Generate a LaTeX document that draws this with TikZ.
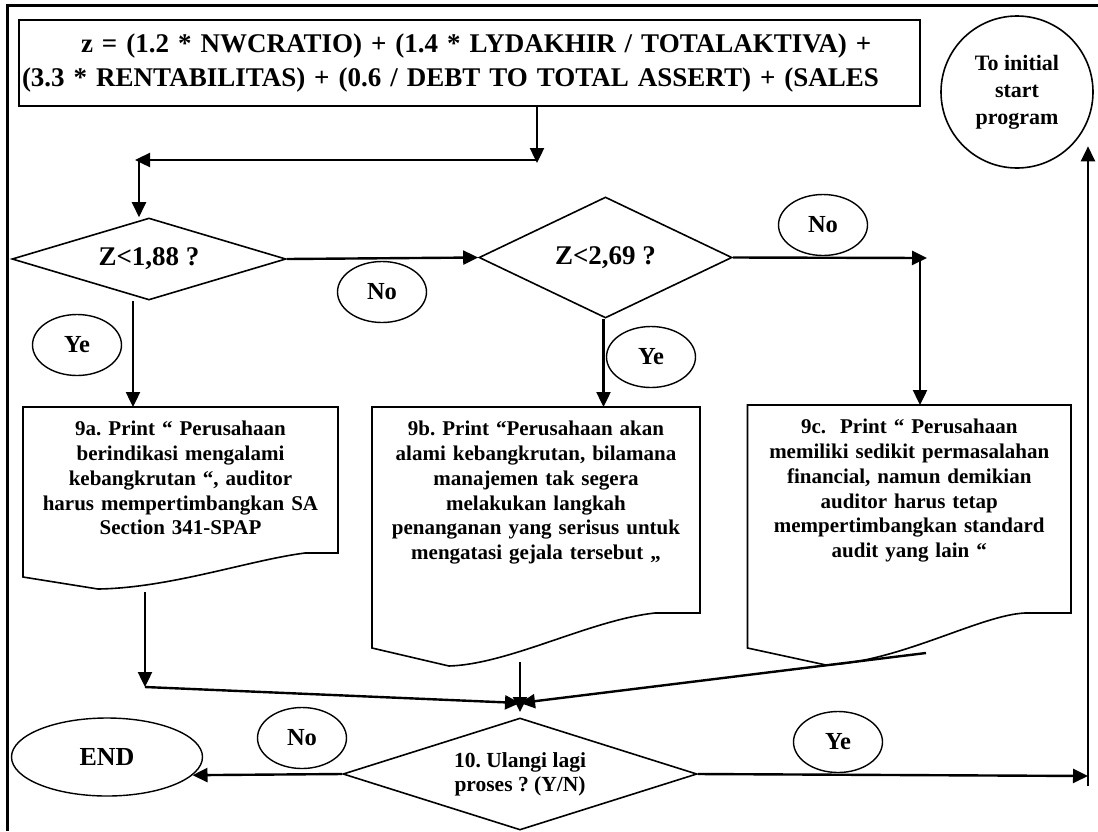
\documentclass[tikz,border=0pt]{standalone}
\usepackage{fontspec}
\setmainfont{Liberation Serif}
\usetikzlibrary{arrows.meta,shapes.geometric,positioning}
\frenchspacing

\begin{document}
\begin{tikzpicture}[x=1pt, y=-1pt, >={Triangle[length=15pt,width=14pt]},
    flow/.style={line width=2.4pt, ->},
    shapeline/.style={line width=1.6pt},
    decision/.style={diamond, draw, shapeline, inner sep=0pt, align=center, font=\bfseries\fontsize{27}{32}\selectfont},
    yesno/.style={ellipse, draw, line width=1.4pt, minimum width=89pt, minimum height=61pt, inner sep=0pt, font=\bfseries\fontsize{24.5}{29}\selectfont},
    doctext/.style={anchor=north, align=center, inner xsep=0pt, inner ysep=14pt, font=\bfseries\fontsize{21}{24.75}\selectfont}]
    \useasboundingbox (0,0) rectangle (1098,831);

    % outer frame
    \draw[line width=3pt] (1098,5) -- (7,5) -- (7,831);

    % Altman formula
    \node[draw, line width=2pt, minimum width=901pt, minimum height=86pt, text width=895pt, inner xsep=3pt, align=left,
          font=\bfseries\fontsize{27}{34}\selectfont] (formula) at (469.5,63)
        {\hspace*{59pt}z = (1.2 * NWCRATIO) + (1.4 * LYDAKHIR / TOTALAKTIVA) +\\(3.3 * RENTABILITAS) + (0.6 / DEBT TO TOTAL ASSERT) + (SALES};

    % back to the start
    \node[circle, draw, shapeline, minimum size=152pt, inner sep=0pt, align=center,
          font=\bfseries\fontsize{22}{27}\selectfont] (restart) at (1017,92) {To initial\\start\\program};

    % the tests
    \node[decision, minimum width=274pt, minimum height=82pt, aspect=3.3] (zz1) at (149,259) {Z<1,88 ?};
    \node[decision, minimum width=253pt, minimum height=121pt, aspect=2.1] (zz2) at (605.5,257.5) {Z<2,69 ?};
    \node[decision, minimum width=354pt, minimum height=112pt, aspect=3.16,
          font=\bfseries\fontsize{21.5}{24}\selectfont] (zz10) at (520,774) {10. Ulangi lagi\\proses ? (Y/N)};

    % answers
    \foreach \nm/\x/\y/\txt in {no1/382/292/No, ye1/77/345/Ye, no2/823/225/No, ye2/651/357/Ye, no3/302/738/No, ye3/838/742/Ye}
        \node[yesno] (\nm) at (\x,\y) {\txt};
    \node[yesno, minimum width=191pt, minimum height=78pt, font=\bfseries\fontsize{26}{30}\selectfont] (stop) at (107,757) {END};

    % print outputs (document shapes)
    \draw[shapeline] (23,407) -- (338,407) -- (338,553) -- (305,553) .. controls (250,560) and (170,588) .. (98,589) -- (23,577) -- cycle;
    \draw[shapeline] (372,407) -- (700,407) -- (700,613) -- (655,613) .. controls (590,620) and (510,664) .. (449,666) -- (372,648) -- cycle;
    \draw[shapeline] (747.5,405) -- (1071,405) -- (1071,613) -- (1025,613) .. controls (980,615) and (900,662) .. (826,665) -- (747.5,648) -- cycle;

    \node[doctext, text width=305pt] (t9a) at (180.5,407)
        {9a. Print “ Perusahaan\\berindikasi mengalami\\kebangkrutan “, auditor\\harus mempertimbangkan SA\\Section 341-SPAP};
    \node[doctext, text width=318pt] (t9b) at (536,407)
        {9b. Print “Perusahaan akan\\alami kebangkrutan, bilamana\\manajemen tak segera\\melakukan langkah\\penanganan yang serisus untuk\\mengatasi gejala tersebut ,,};
    \node[doctext, text width=313pt] (t9c) at (909.25,405)
        {9c.\ \ Print “ Perusahaan\\memiliki sedikit permasalahan\\financial, namun demikian\\auditor harus tetap\\mempertimbangkan standard\\audit yang lain “};

    % formula to first test
    \coordinate (split) at (537,160);
    \coordinate (corner) at (139,160);
    \draw[flow] (formula.south -| split) -- ([yshift=-3pt]split);
    \draw[flow] (split) -- ([xshift=-4pt]corner);
    \draw[flow] (corner) -- (corner |- zz1.north);

    % first and second test
    \draw[flow] (zz1.east) -- (zz2.west);
    \draw[flow] ([xshift=-16pt]zz1.south) -- ([xshift=-16pt]zz1.south |- t9a.north);
    \draw[flow] ([xshift=-2pt]zz2.south) -- ([xshift=-2pt]zz2.south |- t9b.north);
    \coordinate (jog) at (920,258);
    \draw[flow] (zz2.east) -- ([xshift=7pt]jog);
    \draw[flow] (jog) -- (jog |- t9c.north);

    % outputs join at the last test
    \coordinate (out9a) at (145,592);
    \coordinate (bend9a) at (145,687);
    \coordinate (out9b) at (520,662);
    \coordinate (out9c) at (926,653);
    \coordinate (merge) at (520,703);
    \draw[flow] (out9a) -- (bend9a);
    \draw[flow] (bend9a) -- (merge);
    \draw[flow] (out9b) -- ([yshift=-9pt]merge);
    \draw[flow] (out9c) -- (merge);

    % last test
    \coordinate (back) at (1088,776);
    \draw[flow] (zz10.west) -- (stop.-12);
    \draw[flow] (zz10.east) -- (back);
    \draw[flow] ([yshift=-10pt]back) -- (back |- restart.south east);
\end{tikzpicture}
\end{document}
